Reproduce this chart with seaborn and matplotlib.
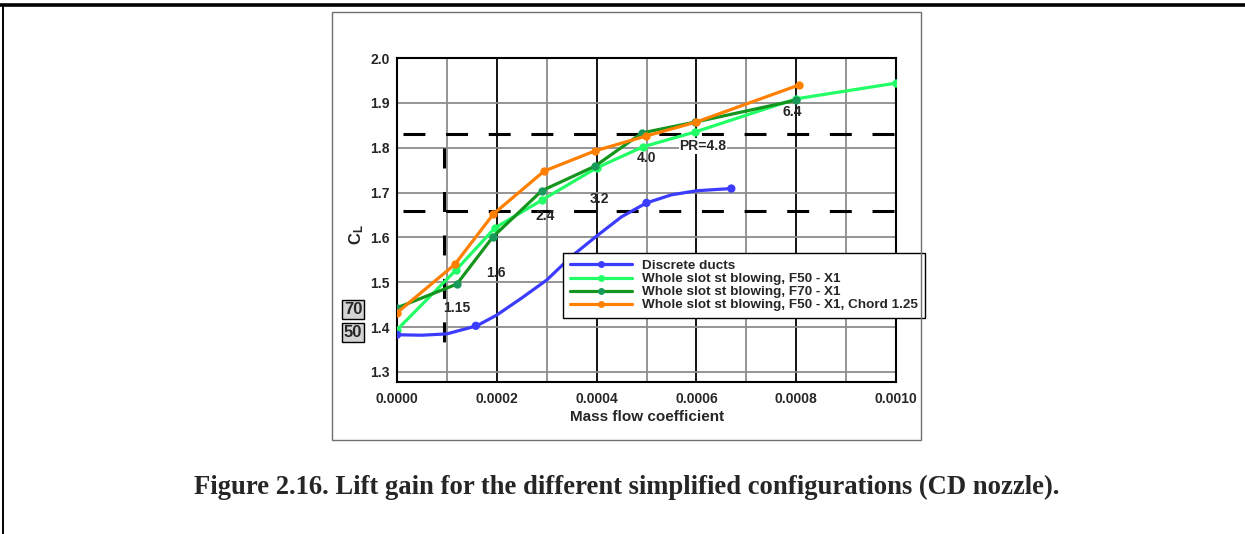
import matplotlib
matplotlib.use("Agg")
import matplotlib.pyplot as plt
import matplotlib.transforms as mtransforms
from matplotlib.lines import Line2D
from matplotlib.patches import Rectangle
from matplotlib.ticker import MultipleLocator, FormatStrFormatter
import seaborn as sns

# ---- data -------------------------------------------------------------
# Discrete ducts: traced curve and its measured points
ducts_curve_x = [0, 0.00005, 0.0001, 0.00016, 0.0002, 0.00025, 0.0003, 0.00035,
                 0.0004, 0.00045, 0.0005, 0.00055, 0.0006, 0.00067]
ducts_curve_cl = [1.383, 1.382, 1.385, 1.403, 1.427, 1.465, 1.505, 1.558,
                  1.603, 1.646, 1.677, 1.695, 1.704, 1.709]
ducts_pts_x = [0, 0.000158, 0.0005, 0.00067]
ducts_pts_cl = [1.383, 1.403, 1.677, 1.709]

f50_x = [0, 0.000118, 0.000196, 0.00029, 0.0004, 0.000493, 0.000597, 0.0008, 0.001]
f50_cl = [1.394, 1.527, 1.621, 1.683, 1.755, 1.802, 1.835, 1.909, 1.944]

f70_x = [0, 0.00012, 0.000192, 0.00029, 0.000397, 0.000491, 0.000597, 0.0008]
f70_cl = [1.443, 1.496, 1.601, 1.704, 1.759, 1.833, 1.857, 1.906]

chord_x = [0, 0.000116, 0.000193, 0.000295, 0.000397, 0.000499, 0.000599, 0.000806]
chord_cl = [1.432, 1.540, 1.652, 1.748, 1.793, 1.826, 1.857, 1.940]

series_names = ["Discrete ducts",
                "Whole slot st blowing, F50 - X1",
                "Whole slot st blowing, F70 - X1",
                "Whole slot st blowing, F50 - X1, Chord 1.25"]

# pressure-ratio annotations
pr_text = ["1.15", "1.6", "2.4", "3.2", "4.0", "PR=4.8", "6.4"]
pr_x = [0.00012, 0.000198, 0.000297, 0.000405, 0.000499, 0.000613, 0.000792]
pr_cl = [1.443, 1.521, 1.648, 1.686, 1.777, 1.804, 1.880]

ref_cl_levels = [1.83, 1.66]
ref_mass_flow = 0.0000942
ref_span = [1.800, 1.365]
base_tags = ["70", "50"]
base_tag_cl = [1.4385, 1.387]

caption = ("Figure 2.16. Lift gain for the different simplified "
           "configurations (CD nozzle).")

# ---- style ------------------------------------------------------------
sns.set_style("white")
plt.rcParams["font.family"] = ["Liberation Sans", "DejaVu Sans"]
plt.rcParams["font.weight"] = "bold"
plt.rcParams["mathtext.fontset"] = "custom"
plt.rcParams["mathtext.bf"] = "Liberation Sans:bold"
plt.rcParams["mathtext.rm"] = "Liberation Sans:bold"
plt.rcParams["lines.scale_dashes"] = False

c_blue = "#3c3cff"
c_light = "#22ff66"
c_dark = "#14961e"
c_dark_mk = "#1a9a5a"
c_orange = "#ff8000"

W, H = 1245, 534
fig = plt.figure(figsize=(W / 100, H / 100), dpi=100)
fig.patch.set_facecolor("white")

ax_l, ax_r, ax_t, ax_b = 397, 896, 58, 382
ax = fig.add_axes([ax_l / W, 1 - ax_b / H, (ax_r - ax_l) / W, (ax_b - ax_t) / H])

ax.set_xlim(0, 0.001)
ax.set_ylim(1.2777, 2.0)

# grid: black at major x, gray at minor x and all y levels
ax.xaxis.set_major_locator(MultipleLocator(0.0002))
ax.xaxis.set_minor_locator(MultipleLocator(0.0001))
ax.yaxis.set_major_locator(MultipleLocator(0.1))
ax.yaxis.set_minor_locator(MultipleLocator(0.02))
ax.xaxis.set_major_formatter(FormatStrFormatter("%.4f"))
ax.yaxis.set_major_formatter(FormatStrFormatter("%.1f"))
ax.grid(which="major", axis="x", color="black", lw=1.3)
ax.grid(which="minor", axis="x", color="#8c8c8c", lw=1.3)
ax.grid(which="major", axis="y", color="#8c8c8c", lw=1.3)
ax.set_axisbelow(True)
for s in ax.spines.values():
    s.set_color("black")
    s.set_linewidth(1.5)

ax.tick_params(axis="x", which="both", length=0, pad=7, labelsize=10)
ax.tick_params(axis="y", which="major", length=0, pad=5, labelsize=10)
ax.tick_params(axis="y", which="minor", direction="in", length=5, width=1.2,
               color="black")
for lbl in ax.get_xticklabels() + ax.get_yticklabels():
    lbl.set_fontweight("bold")

# reference dashed lines
for lev in ref_cl_levels:
    ax.plot([0, 0.001], [lev, lev], color="black", lw=2.2,
            linestyle=(26.4, (15.8, 14.9)), zorder=2)
ax.plot([ref_mass_flow, ref_mass_flow], ref_span, color="black", lw=2.2,
        linestyle=(0, (14.4, 16.9)), zorder=2)

# curves
lw = 2.3
ms = 6
sns.lineplot(x=ducts_curve_x, y=ducts_curve_cl, ax=ax, color=c_blue, lw=lw,
             sort=False, estimator=None, zorder=3)
sns.scatterplot(x=ducts_pts_x, y=ducts_pts_cl, ax=ax, color=c_blue, s=ms**2,
                edgecolor="none", zorder=4)

sns.lineplot(x=f50_x, y=f50_cl, ax=ax, color=c_light, lw=lw, marker="o",
             markersize=ms, markeredgewidth=0, sort=False, estimator=None, zorder=3)
sns.lineplot(x=f70_x, y=f70_cl, ax=ax, color=c_dark, lw=lw, marker="o",
             markersize=ms, markerfacecolor=c_dark_mk, markeredgewidth=0,
             sort=False, estimator=None, zorder=3)
sns.lineplot(x=chord_x, y=chord_cl, ax=ax, color=c_orange, lw=lw, marker="o",
             markersize=ms, markeredgewidth=0, sort=False, estimator=None, zorder=3)

# PR annotations
for t, x, y in zip(pr_text, pr_x, pr_cl):
    kw = {}
    if t.startswith("PR"):
        kw["bbox"] = dict(facecolor="white", edgecolor="none", pad=0.6)
    ax.text(x, y, t, ha="center", va="center", fontsize=10, fontweight="bold",
            zorder=5, **kw)

# labelled base values at the left
blend = mtransforms.blended_transform_factory(ax.transAxes, ax.transData)
for t, y in zip(base_tags, base_tag_cl):
    ax.text((353 - ax_l) / (ax_r - ax_l), y, t, transform=blend, ha="center",
            va="center", fontsize=12, fontweight="bold", clip_on=False,
            bbox=dict(boxstyle="square,pad=0.12", facecolor="#d4d4d4",
                      edgecolor="black", lw=1))

ax.set_xlabel("Mass flow coefficient", fontsize=11, fontweight="bold")
ax.set_ylabel(r"$\mathbf{C_L}$", fontsize=12)
ax.xaxis.set_label_coords(0.501, -(417 - ax_b) / (ax_b - ax_t), transform=ax.transAxes)
ax.yaxis.set_label_coords(-(ax_l - 357) / (ax_r - ax_l), (ax_b - 235) / (ax_b - ax_t))
ax.xaxis.label.set_va("center")
ax.yaxis.label.set_va("center")

# legend
handles = [
    Line2D([], [], color=c_blue, lw=lw, marker="o", markersize=5, markeredgewidth=0),
    Line2D([], [], color=c_light, lw=lw, marker="o", markersize=5, markeredgewidth=0),
    Line2D([], [], color=c_dark, lw=lw, marker="o", markersize=5,
           markerfacecolor=c_dark_mk, markeredgewidth=0),
    Line2D([], [], color=c_orange, lw=lw, marker="o", markersize=5, markeredgewidth=0),
]
leg = ax.legend(handles, series_names, loc="upper left",
                bbox_to_anchor=((563 - ax_l) / (ax_r - ax_l), (ax_b - 253) / (ax_b - ax_t)),
                borderaxespad=0, frameon=True, fancybox=False, framealpha=1,
                edgecolor="black", handlelength=4.6, handletextpad=0.75,
                labelspacing=0.05, borderpad=0.5,
                prop={"weight": "bold", "size": 9.7})
leg.get_frame().set_linewidth(1.0)
leg.set_zorder(6)

# frames around the chart and page
fig.add_artist(Rectangle((332 / W, 1 - 440 / H), 589 / W, 428 / H,
                         transform=fig.transFigure, fill=False,
                         edgecolor="#707070", lw=1.0))
fig.add_artist(Line2D([0, 1], [1 - 5 / H, 1 - 5 / H], transform=fig.transFigure,
                      color="black", lw=2.6))
fig.add_artist(Line2D([3 / W, 3 / W], [0, 1 - 5 / H], transform=fig.transFigure,
                      color="black", lw=1.4))

fig.text(627 / W, 1 - 487 / H, caption, ha="center", va="center",
         fontsize=19.2, fontweight="bold", family=["Liberation Serif", "DejaVu Serif"])

fig.savefig("out.png", dpi=100, facecolor="white")
